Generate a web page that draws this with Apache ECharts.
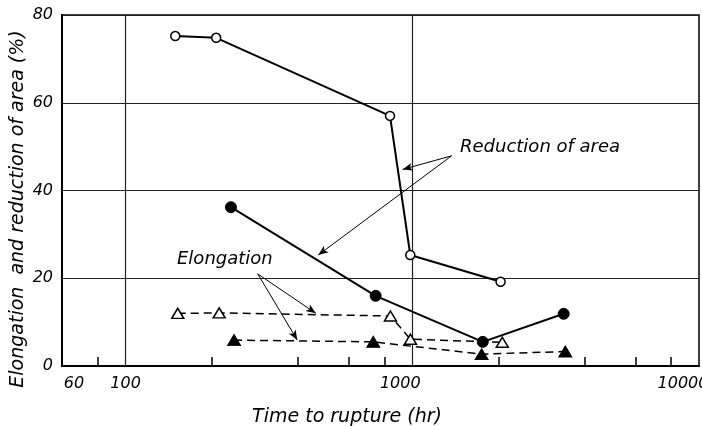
<!DOCTYPE html>
<html><head><meta charset="utf-8">
<script src="https://cdn.jsdelivr.net/npm/echarts@6/dist/echarts.min.js"></script>
<style>html,body{margin:0;padding:0;background:#fff}#c{width:702px;height:426px}</style>
</head><body><div id="c"></div>
<script>
// ---- data ----
const xLabelValues = [60, 100, 1000, 10000];
const xMinorTicks = [80, 200, 400, 600, 800, 2000, 4000, 6000, 8000];
const xGridValues = [100, 1000];
const yTickValues = [0, 20, 40, 60, 80];

// Reduction of area (open circles)
const raOpenX = [149, 207, 836, 984, 2032];
const raOpenY = [75.2, 74.8, 57.0, 25.3, 19.2];
// Reduction of area (filled circles)
const raFillX = [233, 745, 1761, 3373];
const raFillY = [36.2, 16.0, 5.5, 11.9];
// Elongation (open triangles)
const elOpenX = [152, 212, 839, 985, 2060];
const elOpenY = [12.0, 12.1, 11.4, 6.1, 5.4];
// Elongation (filled triangles)
const elFillX = [239, 731, 1745, 3417];
const elFillY = [5.9, 5.5, 2.7, 3.3];

// annotation arrows (data coords: [from], [to])
const raArrowFrom = [1371, 47.9];
const raArrowTo = [[925, 44.8], [470, 25.3]];
const elArrowFrom = [289, 21.0];
const elArrowTo = [[461, 12.0], [397, 5.9]];

const labelReduction = 'Reduction of area';
const labelElongation = 'Elongation';
const xTitle = 'Time to rupture (hr)';
const yTitle = 'Elongation  and reduction of area (%)';

// ---- chart ----
const FONT = 'DejaVu Sans';
const zip = (xs, ys) => xs.map((x, i) => [x, ys[i]]);
const chart = echarts.init(document.getElementById('c'), null, {renderer: 'canvas'});

const arrowLines = (from, tos) => tos.map(t => [{coord: from}, {coord: t}]);

const option = {
  animation: false,
  backgroundColor: '#fff',
  grid: {left: 62, right: 3, top: 15, bottom: 60, containLabel: false, outerBoundsMode: 'none',
         show: true, borderColor: '#000', borderWidth: 1.5, backgroundColor: 'transparent'},
  xAxis: {
    type: 'log', logBase: 10, min: 60, max: 10000,
    axisLine: {show: true, lineStyle: {color: '#000', width: 2}},
    axisTick: {show: true, inside: true, length: 9, customValues: xMinorTicks, lineStyle: {color: '#000', width: 1.5}},
    splitLine: {show: false},
    minorTick: {show: false},
    axisLabel: {
      customValues: xLabelValues,
      showMinLabel: true, showMaxLabel: true, hideOverlap: false,
      margin: 10,
      color: '#000', fontFamily: FONT, fontStyle: 'italic', fontSize: 16,
      formatter: function (v) {
        const r = Math.round(v);
        if (r === 60) return '{l|60}';
        if (r === 1000) return '{r|1000}';
        if (r === 10000) return '{rr|10000}';
        return '{c|' + r + '}';
      },
      rich: {
        l: {padding: [0, 0, 0, 24], fontFamily: FONT, fontStyle: 'italic', fontSize: 16, color: '#000'},
        r: {padding: [0, 24, 0, 0], fontFamily: FONT, fontStyle: 'italic', fontSize: 16, color: '#000'},
        rr: {padding: [0, 32, 0, 0], fontFamily: FONT, fontStyle: 'italic', fontSize: 16, color: '#000'},
        c: {fontFamily: FONT, fontStyle: 'italic', fontSize: 16, color: '#000'}
      }
    }
  },
  yAxis: {
    type: 'value', min: 0, max: 80, interval: 20,
    axisLine: {show: true, lineStyle: {color: '#000', width: 2}},
    axisTick: {show: false},
    splitLine: {show: true, lineStyle: {color: '#222', width: 1.2}},
    axisLabel: {margin: 9, color: '#000', fontFamily: FONT, fontStyle: 'italic', fontSize: 16}
  },
  series: [
    {
      type: 'line', name: 'Reduction of area A', data: zip(raOpenX, raOpenY),
      symbol: 'circle', symbolSize: 9,
      itemStyle: {color: '#fff', borderColor: '#000', borderWidth: 1.5},
      lineStyle: {color: '#000', width: 2},
      z: 5,
      markLine: {
        silent: true, symbol: ['none', 'none'], label: {show: false},
        lineStyle: {color: '#222', width: 1.2, type: 'solid'},
        data: xGridValues.map(v => ({xAxis: v}))
      }
    },
    {
      type: 'line', name: 'Reduction of area B', data: zip(raFillX, raFillY),
      symbol: 'circle', symbolSize: 11,
      itemStyle: {color: '#000', borderColor: '#000'},
      lineStyle: {color: '#000', width: 2},
      z: 5,
      markLine: {
        silent: true, symbol: ['none', 'arrow'], symbolSize: [6, 10], label: {show: false},
        lineStyle: {color: '#000', width: 1, type: 'solid'},
        data: arrowLines(raArrowFrom, raArrowTo)
      }
    },
    {
      type: 'line', name: 'Elongation A', data: zip(elOpenX, elOpenY),
      symbol: 'triangle', symbolSize: [12, 10],
      itemStyle: {color: '#fff', borderColor: '#000', borderWidth: 1.5},
      lineStyle: {color: '#000', width: 1.5, type: [8, 5]},
      z: 5,
      markLine: {
        silent: true, symbol: ['none', 'arrow'], symbolSize: [6, 10], label: {show: false},
        lineStyle: {color: '#000', width: 1, type: 'solid'},
        data: arrowLines(elArrowFrom, elArrowTo)
      }
    },
    {
      type: 'line', name: 'Elongation B', data: zip(elFillX, elFillY),
      symbol: 'triangle', symbolSize: [13, 11],
      itemStyle: {color: '#000', borderColor: '#000'},
      lineStyle: {color: '#000', width: 1.5, type: [8, 5]},
      z: 5
    }
  ],
  graphic: [
    {type: 'text', left: 460, top: 138, style: {text: labelReduction, font: 'italic 18px "' + FONT + '"', fill: '#000'}},
    {type: 'text', left: 177, top: 250, style: {text: labelElongation, font: 'italic 18px "' + FONT + '"', fill: '#000'}},
    {type: 'text', x: 347, y: 417, style: {text: xTitle, font: 'italic 19px "' + FONT + '"', fill: '#000', align: 'center', verticalAlign: 'middle'}},
    {type: 'text', x: 18, y: 209, rotation: Math.PI / 2, style: {text: yTitle, font: 'italic 19px "' + FONT + '"', fill: '#000', align: 'center', verticalAlign: 'middle'}}
  ]
};
chart.setOption(option);
</script>
</body></html>
